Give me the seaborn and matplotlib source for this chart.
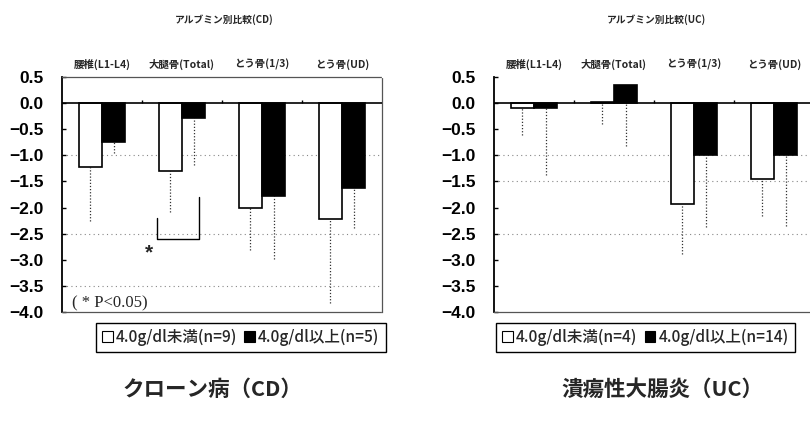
import numpy as np
import pandas as pd
import matplotlib
matplotlib.use("Agg")
import matplotlib.pyplot as plt
from matplotlib.patches import Patch
from matplotlib.font_manager import FontProperties
import seaborn as sns

# ---- data -------------------------------------------------------------
categories = ["腰椎(L1-L4)", "大腿骨(Total)", "とう骨(1/3)", "とう骨(UD)"]
groups = ["低", "高"]

cd_low = [-1.23, -1.30, -2.00, -2.22]
cd_high = [-0.74, -0.29, -1.77, -1.63]
cd_low_sd = [1.02, 0.78, 0.82, 1.60]
cd_high_sd = [0.21, 0.89, 1.22, 0.77]

uc_low = [-0.10, 0.03, -1.93, -1.45]
uc_high = [-0.10, 0.35, -1.00, -1.00]
uc_low_sd = [0.52, 0.43, 0.95, 0.72]
uc_high_sd = [1.28, 1.17, 1.38, 1.36]

cd_legend = ["4.0g/dl未満(n=9)", "4.0g/dl以上(n=5)"]
uc_legend = ["4.0g/dl未満(n=4)", "4.0g/dl以上(n=14)"]

yticks = [0.5, 0.0, -0.5, -1.0, -1.5, -2.0, -2.5, -3.0, -3.5, -4.0]

# ---- style ------------------------------------------------------------
sns.set_style("white")
plt.rcParams["font.family"] = ["Noto Sans CJK JP", "DejaVu Sans"]
NUM_FONT = ["Liberation Sans", "DejaVu Sans"]
LEG_FONT = FontProperties(family=["Noto Sans CJK JP", "DejaVu Sans"],
                          size=11.2, weight="medium")

fig = plt.figure(figsize=(8.10, 4.24), dpi=100)
fig.patch.set_facecolor("white")


def panel(rect, low, high, low_sd, high_sd, title, legend_labels,
          legend_x, grid_levels, top_frame):
    ax = fig.add_axes(rect)
    df = pd.DataFrame({
        "cat": categories * 2,
        "grp": [groups[0]] * 4 + [groups[1]] * 4,
        "val": low + high,
    })
    sns.barplot(data=df, x="cat", y="val", hue="grp", order=categories,
                hue_order=groups, palette=["white", "black"],
                edgecolor="black", linewidth=1.2, width=0.58,
                errorbar=None, legend=False, ax=ax, zorder=2)

    # one-sided dotted SD bars hanging below each bar
    bars = ax.patches[:8]
    xs = [b.get_x() + b.get_width() / 2 for b in bars]
    vals = low + high
    sds = low_sd + high_sd
    eb = ax.errorbar(xs, vals, yerr=[sds, [0] * 8], fmt="none",
                     ecolor="#333333", elinewidth=0.9, capsize=0, zorder=1)
    eb.lines[2][0].set_linestyle((0, (1, 1.5)))

    ax.set_xlim(-0.5, 3.5)
    ax.set_ylim(-4.0, 0.5)

    for g in grid_levels:
        ax.axhline(g, color="#888888", lw=0.8, ls=(0, (1, 3)), zorder=0.5)

    # zero line with small marks between groups
    ax.axhline(0, color="black", lw=1.2, zorder=3)
    ax.vlines([0.5, 1.5, 2.5], 0, 0.05, color="black", lw=1, zorder=3)

    ax.set_yticks(yticks)
    ax.set_yticklabels([f"{t:.1f}".replace("-", "\u2212") for t in yticks],
                       family=NUM_FONT, fontweight="bold", fontsize=12.5)
    ax.tick_params(axis="y", direction="in", length=3, width=1,
                   left=True, pad=13, colors="black")

    ax.xaxis.tick_top()
    ax.set_xticks(range(4))
    ax.set_xticklabels(categories, fontsize=7.5, fontweight="bold")
    ax.tick_params(axis="x", length=0, pad=5)
    ax.set_xlabel("")
    ax.set_ylabel("")

    ax.spines["left"].set_color("black")
    ax.spines["left"].set_linewidth(1.3)
    for s in ["top", "right", "bottom"]:
        ax.spines[s].set_color("#555555")
        ax.spines[s].set_linewidth(0.9)
        ax.spines[s].set_linestyle((0, (1, 1)))
    if not top_frame:
        ax.spines["top"].set_visible(False)

    fig.text(rect[0] + rect[2] / 2 + 0.003, 1 - 20 / 424, title,
             ha="center", va="center", fontsize=7, fontweight="bold")

    handles = [Patch(facecolor="white", edgecolor="black", lw=0.8),
               Patch(facecolor="black", edgecolor="black", lw=0.8)]
    leg = ax.legend(handles, legend_labels, ncol=2, loc="upper left",
                    bbox_to_anchor=(legend_x, -0.045), frameon=True,
                    fancybox=False, edgecolor="black", framealpha=1,
                    prop=LEG_FONT, handlelength=0.7, handleheight=0.7,
                    handletextpad=0.2, columnspacing=0.45, borderpad=0.4,
                    borderaxespad=0)
    leg.get_frame().set_linewidth(1.0)
    return ax


ax1 = panel([62 / 810, 1 - 312 / 424, 320 / 810, 235 / 424],
            cd_low, cd_high, cd_low_sd, cd_high_sd,
            "アルブミン別比較(CD)", cd_legend, 0.105,
            [-1.0, -2.5, -3.5], True)

# significance bracket between the two 大腿骨 bars
ax1.plot([0.69, 0.69, 1.21, 1.21], [-2.2, -2.6, -2.6, -1.8],
         color="black", lw=1, zorder=4)
ax1.text(0.59, -2.86, "*", ha="center", va="center", fontsize=15,
         fontweight="bold", family=NUM_FONT)
ax1.text(-0.38, -3.84, "( * P<0.05)", ha="left", va="center", fontsize=12,
         family=["Liberation Serif", "DejaVu Serif"])

ax2 = panel([494 / 810, 1 - 312 / 424, 320 / 810, 235 / 424],
            uc_low, uc_high, uc_low_sd, uc_high_sd,
            "アルブミン別比較(UC)", uc_legend, 0.006,
            [-1.0, -1.5, -2.5], False)

fig.text(212 / 810, 1 - 389 / 424, "クローン病（CD）", ha="center",
         va="center", fontsize=15.5, fontweight="bold")
fig.text(662 / 810, 1 - 389 / 424, "潰瘍性大腸炎（UC）", ha="center",
         va="center", fontsize=15.5, fontweight="bold")

fig.savefig("out.png", dpi=100, facecolor="white")
